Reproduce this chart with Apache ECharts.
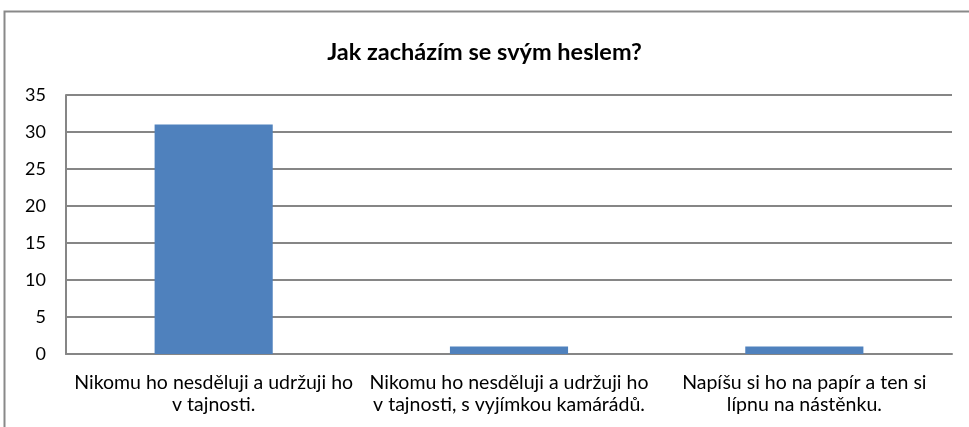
<!DOCTYPE html>
<html>
<head>
<meta charset="utf-8">
<script src="https://cdn.jsdelivr.net/npm/echarts@6/dist/echarts.min.js"></script>
<style>
  html, body { margin: 0; padding: 0; background: #fff; }
  #chart { width: 969px; height: 427px; }
</style>
</head>
<body>
<div id="chart"></div>
<script>
// Data
const categories = [
    'Nikomu ho nesděluji a udržuji ho\nv tajnosti.',
    'Nikomu ho nesděluji a udržuji ho\nv tajnosti, s vyjímkou kamárádů.',
    'Napíšu si ho na papír a ten si\nlípnu na nástěnku.'
];
const values = [31, 1, 1];
const yTicks = { min: 0, max: 35, interval: 5 };

const font = 'Lato, sans-serif';
const chart = echarts.init(document.getElementById('chart'));

chart.setOption({
    animation: false,
    title: {
        text: 'Jak zacházím se svým heslem?',
        left: 'center',
        top: 35,
        textStyle: { fontFamily: font, fontSize: 23.5, fontWeight: 'bold', color: '#000' }
    },
    graphic: [{
        type: 'rect',
        shape: { x: 4.5, y: 11.5, width: 1000, height: 500 },
        style: { fill: 'none', stroke: '#898989', lineWidth: 2 },
        silent: true
    }],
    grid: { left: 66, right: 17, top: 95, bottom: 73 },
    xAxis: {
        type: 'category',
        data: categories,
        axisLine: { lineStyle: { color: '#868686', width: 2 } },
        axisTick: { show: false },
        axisLabel: {
            interval: 0,
            color: '#000',
            fontFamily: font,
            fontSize: 19.5,
            lineHeight: 22,
            margin: 18,
            align: 'center'
        }
    },
    yAxis: {
        type: 'value',
        min: yTicks.min,
        max: yTicks.max,
        interval: yTicks.interval,
        axisLine: { show: true, lineStyle: { color: '#868686', width: 2 } },
        axisTick: { show: false },
        splitLine: { lineStyle: { color: '#868686', width: 2 } },
        axisLabel: { color: '#000', fontFamily: font, fontSize: 18, margin: 20 }
    },
    series: [{
        type: 'bar',
        data: values,
        barWidth: '40%',
        itemStyle: { color: '#4f81bd' }
    }]
});
</script>
</body>
</html>
